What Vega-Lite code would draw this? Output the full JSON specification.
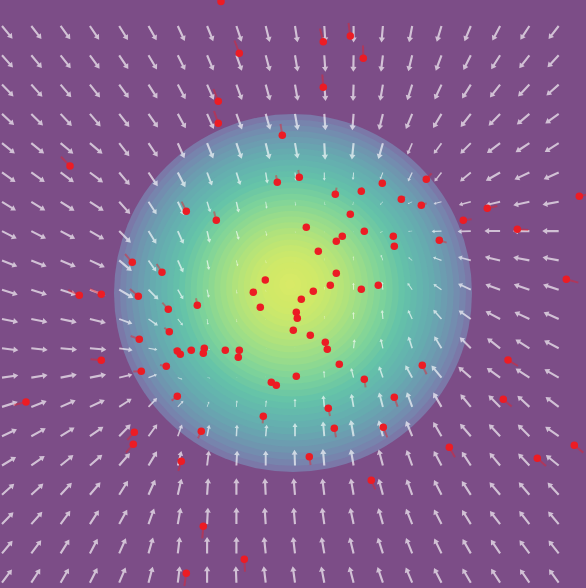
{
"$schema": "https://vega.github.io/schema/vega-lite/v6.json",
"width": 586, "height": 588, "padding": 0, "autosize": {"type": "none"},
"background": "#7c4d87",
"config": {"view": {"stroke": null, "fill": "#7c4d87"}},
"datasets": {
"heat": [
{"cx":29.3,"cy":29.5,"r":17.9,"v":0.18},{"cx":29.3,"cy":29.53,"r":17.3,"v":0.24},{"cx":29.28,"cy":29.56,"r":16.7,"v":0.29},{"cx":29.27,"cy":29.59,"r":16.1,"v":0.34},{"cx":29.26,"cy":29.62,"r":15.5,"v":0.38},{"cx":29.25,"cy":29.65,"r":14.9,"v":0.42},{"cx":29.24,"cy":29.68,"r":14.3,"v":0.46},{"cx":29.23,"cy":29.71,"r":13.7,"v":0.49},{"cx":29.22,"cy":29.74,"r":13.1,"v":0.52},{"cx":29.21,"cy":29.77,"r":12.5,"v":0.55},{"cx":29.2,"cy":29.8,"r":11.9,"v":0.58},{"cx":29.19,"cy":29.83,"r":11.3,"v":0.61},{"cx":29.18,"cy":29.86,"r":10.7,"v":0.64},{"cx":29.17,"cy":29.89,"r":10.1,"v":0.67},{"cx":29.16,"cy":29.92,"r":9.5,"v":0.70},{"cx":29.15,"cy":29.95,"r":8.9,"v":0.72},{"cx":29.14,"cy":29.98,"r":8.3,"v":0.745},{"cx":29.13,"cy":30.01,"r":7.7,"v":0.77},{"cx":29.12,"cy":30.04,"r":7.1,"v":0.79},{"cx":29.11,"cy":30.07,"r":6.5,"v":0.81},{"cx":29.1,"cy":30.1,"r":5.9,"v":0.83},{"cx":29.09,"cy":30.13,"r":5.3,"v":0.845},{"cx":29.08,"cy":30.16,"r":4.7,"v":0.86},{"cx":29.07,"cy":30.19,"r":4.1,"v":0.875},{"cx":29.06,"cy":30.22,"r":3.5,"v":0.885},{"cx":29.05,"cy":30.25,"r":2.9,"v":0.895},{"cx":29.04,"cy":30.28,"r":2.3,"v":0.9},{"cx":29.03,"cy":30.31,"r":1.7,"v":0.905},{"cx":29.02,"cy":30.34,"r":1.1,"v":0.91},{"cx":29.01,"cy":30.37,"r":0.5,"v":0.915}
],
"field": [
{"k":0,"j":0,"a":140.2,"m":1},{"k":1,"j":0,"a":142,"m":1},{"k":2,"j":0,"a":143.9,"m":1},{"k":3,"j":0,"a":145.9,"m":1},{"k":4,"j":0,"a":148.1,"m":1},{"k":5,"j":0,"a":150.5,"m":1},{"k":6,"j":0,"a":155,"m":1},{"k":7,"j":0,"a":158,"m":1},{"k":8,"j":0,"a":161.5,"m":1},{"k":9,"j":0,"a":166,"m":1},{"k":10,"j":0,"a":171,"m":1},{"k":11,"j":0,"a":176,"m":1},{"k":12,"j":0,"a":180,"m":1},{"k":13,"j":0,"a":185,"m":1},{"k":14,"j":0,"a":191,"m":1},{"k":15,"j":0,"a":196.8,"m":1},{"k":16,"j":0,"a":202.6,"m":1},{"k":17,"j":0,"a":208.1,"m":1},{"k":18,"j":0,"a":213.2,"m":1},{"k":19,"j":0,"a":218,"m":1},
{"k":0,"j":1,"a":138.2,"m":1},{"k":1,"j":1,"a":140,"m":1},{"k":2,"j":1,"a":142,"m":1},{"k":3,"j":1,"a":144.1,"m":1},{"k":4,"j":1,"a":146.4,"m":1},{"k":5,"j":1,"a":149,"m":1},{"k":6,"j":1,"a":153.5,"m":1},{"k":7,"j":1,"a":157,"m":1},{"k":8,"j":1,"a":160.5,"m":1},{"k":9,"j":1,"a":165,"m":1},{"k":10,"j":1,"a":170.5,"m":1},{"k":11,"j":1,"a":176,"m":1},{"k":12,"j":1,"a":181,"m":1},{"k":13,"j":1,"a":186.9,"m":1},{"k":14,"j":1,"a":193.7,"m":1},{"k":15,"j":1,"a":200.4,"m":1},{"k":16,"j":1,"a":206.7,"m":1},{"k":17,"j":1,"a":212.7,"m":1},{"k":18,"j":1,"a":218,"m":1},{"k":19,"j":1,"a":222.9,"m":1},
{"k":0,"j":2,"a":135.7,"m":1},{"k":1,"j":2,"a":137.6,"m":1},{"k":2,"j":2,"a":139.7,"m":1},{"k":3,"j":2,"a":142,"m":1},{"k":4,"j":2,"a":144.5,"m":1},{"k":5,"j":2,"a":147.2,"m":1},{"k":6,"j":2,"a":152,"m":1},{"k":7,"j":2,"a":156,"m":1},{"k":8,"j":2,"a":160,"m":1},{"k":9,"j":2,"a":164.5,"m":1},{"k":10,"j":2,"a":170,"m":1},{"k":11,"j":2,"a":175.5,"m":1},{"k":12,"j":2,"a":182,"m":1},{"k":13,"j":2,"a":189.8,"m":1},{"k":14,"j":2,"a":197.5,"m":1},{"k":15,"j":2,"a":204.9,"m":1},{"k":16,"j":2,"a":211.8,"m":1},{"k":17,"j":2,"a":218,"m":1},{"k":18,"j":2,"a":223.5,"m":1},{"k":19,"j":2,"a":228.3,"m":1},
{"k":0,"j":3,"a":132.9,"m":1},{"k":1,"j":3,"a":134.8,"m":1},{"k":2,"j":3,"a":137,"m":1},{"k":3,"j":3,"a":139.4,"m":1},{"k":4,"j":3,"a":142,"m":1},{"k":5,"j":3,"a":145,"m":1},{"k":6,"j":3,"a":151,"m":1},{"k":7,"j":3,"a":156,"m":1},{"k":8,"j":3,"a":160,"m":1},{"k":9,"j":3,"a":164,"m":1},{"k":10,"j":3,"a":170,"m":1},{"k":11,"j":3,"a":176,"m":1},{"k":12,"j":3,"a":184.5,"m":1},{"k":13,"j":3,"a":193.7,"m":1},{"k":14,"j":3,"a":202.6,"m":1},{"k":15,"j":3,"a":210.7,"m":1},{"k":16,"j":3,"a":218,"m":1},{"k":17,"j":3,"a":224.3,"m":1},{"k":18,"j":3,"a":229.7,"m":1},{"k":19,"j":3,"a":234.5,"m":1},
{"k":0,"j":4,"a":128.8,"m":1},{"k":1,"j":4,"a":129,"m":1},{"k":2,"j":4,"a":129.5,"m":1},{"k":3,"j":4,"a":130,"m":1},{"k":4,"j":4,"a":142,"m":1},{"k":5,"j":4,"a":146,"m":1},{"k":6,"j":4,"a":156,"m":1},{"k":7,"j":4,"a":158,"m":1},{"k":8,"j":4,"a":161,"m":1},{"k":9,"j":4,"a":166,"m":1},{"k":10,"j":4,"a":170,"m":0.95},{"k":11,"j":4,"a":177,"m":1},{"k":12,"j":4,"a":186,"m":1},{"k":13,"j":4,"a":196,"m":1},{"k":14,"j":4,"a":203,"m":0.75},{"k":15,"j":4,"a":216,"m":0.8},{"k":16,"j":4,"a":225,"m":0.9},{"k":17,"j":4,"a":233,"m":1},{"k":18,"j":4,"a":237,"m":1},{"k":19,"j":4,"a":238,"m":1},
{"k":0,"j":5,"a":125,"m":1},{"k":1,"j":5,"a":125,"m":1},{"k":2,"j":5,"a":126,"m":1},{"k":3,"j":5,"a":127,"m":1},{"k":4,"j":5,"a":140,"m":1},{"k":5,"j":5,"a":146,"m":1},{"k":6,"j":5,"a":152.8,"m":1},{"k":7,"j":5,"a":159.4,"m":0.85},{"k":8,"j":5,"a":162.5,"m":0.8},{"k":9,"j":5,"a":171,"m":0.67},{"k":10,"j":5,"a":173,"m":0.5},{"k":11,"j":5,"a":180,"m":0.5},{"k":12,"j":5,"a":185,"m":0.45},{"k":13,"j":5,"a":202,"m":0.45},{"k":14,"j":5,"a":205,"m":0.6},{"k":15,"j":5,"a":218,"m":0.7},{"k":16,"j":5,"a":230,"m":0.85},{"k":17,"j":5,"a":240,"m":1},{"k":18,"j":5,"a":245,"m":1},{"k":19,"j":5,"a":246,"m":1},
{"k":0,"j":6,"a":122,"m":1},{"k":1,"j":6,"a":122,"m":1},{"k":2,"j":6,"a":122.5,"m":1},{"k":3,"j":6,"a":123,"m":1},{"k":4,"j":6,"a":138,"m":1},{"k":5,"j":6,"a":147,"m":0.9},{"k":6,"j":6,"a":154.4,"m":0.9},{"k":7,"j":6,"a":162.8,"m":0.67},{"k":8,"j":6,"a":167.7,"m":0.67},{"k":9,"j":6,"a":171.5,"m":0.42},{"k":10,"j":6,"a":170,"m":0.25},{"k":11,"j":6,"a":166,"m":0.2},{"k":12,"j":6,"a":196,"m":0.2},{"k":13,"j":6,"a":225,"m":0.25},{"k":14,"j":6,"a":245,"m":0.3},{"k":15,"j":6,"a":255,"m":0.5},{"k":16,"j":6,"a":255,"m":0.75},{"k":17,"j":6,"a":257,"m":0.9},{"k":18,"j":6,"a":258,"m":1},{"k":19,"j":6,"a":259.4,"m":1},
{"k":0,"j":7,"a":117,"m":1},{"k":1,"j":7,"a":117,"m":1},{"k":2,"j":7,"a":118,"m":1},{"k":3,"j":7,"a":120,"m":1},{"k":4,"j":7,"a":135,"m":1},{"k":5,"j":7,"a":148,"m":0.9},{"k":6,"j":7,"a":155.7,"m":0.85},{"k":7,"j":7,"a":167,"m":0.72},{"k":8,"j":7,"a":164.5,"m":0.55},{"k":9,"j":7,"a":167,"m":0.3},{"k":10,"j":7,"a":170,"m":0.12},{"k":11,"j":7,"a":180,"m":0.08},{"k":12,"j":7,"a":200,"m":0.08},{"k":13,"j":7,"a":240,"m":0.2},{"k":14,"j":7,"a":265,"m":0.25},{"k":15,"j":7,"a":268,"m":0.6},{"k":16,"j":7,"a":268,"m":0.8},{"k":17,"j":7,"a":270,"m":0.95},{"k":18,"j":7,"a":270,"m":1},{"k":19,"j":7,"a":270,"m":1},
{"k":0,"j":8,"a":112,"m":1},{"k":1,"j":8,"a":112,"m":1},{"k":2,"j":8,"a":113,"m":1},{"k":3,"j":8,"a":115,"m":1},{"k":4,"j":8,"a":130,"m":1},{"k":5,"j":8,"a":145,"m":0.82},{"k":6,"j":8,"a":155.6,"m":0.8},{"k":7,"j":8,"a":168.7,"m":0.6},{"k":8,"j":8,"a":167,"m":0.36},{"k":9,"j":8,"a":170,"m":0.18},{"k":10,"j":8,"a":180,"m":0.06},{"k":11,"j":8,"a":0,"m":0.12},{"k":12,"j":8,"a":355,"m":0.25},{"k":13,"j":8,"a":340,"m":0.36},{"k":14,"j":8,"a":310,"m":0.3},{"k":15,"j":8,"a":290,"m":0.55},{"k":16,"j":8,"a":285,"m":0.8},{"k":17,"j":8,"a":283,"m":0.95},{"k":18,"j":8,"a":281,"m":1},{"k":19,"j":8,"a":281,"m":1},
{"k":0,"j":9,"a":107.7,"m":1},{"k":1,"j":9,"a":108,"m":1},{"k":2,"j":9,"a":108,"m":1},{"k":3,"j":9,"a":110,"m":1},{"k":4,"j":9,"a":120,"m":1},{"k":5,"j":9,"a":135,"m":0.85},{"k":6,"j":9,"a":150.3,"m":0.67},{"k":7,"j":9,"a":167.6,"m":0.5},{"k":8,"j":9,"a":171,"m":0.25},{"k":9,"j":9,"a":170,"m":0.12},{"k":10,"j":9,"a":180,"m":0.06},{"k":11,"j":9,"a":0,"m":0.18},{"k":12,"j":9,"a":358,"m":0.42},{"k":13,"j":9,"a":352,"m":0.5},{"k":14,"j":9,"a":325,"m":0.5},{"k":15,"j":9,"a":305,"m":0.6},{"k":16,"j":9,"a":295,"m":0.85},{"k":17,"j":9,"a":290,"m":0.95},{"k":18,"j":9,"a":289,"m":1},{"k":19,"j":9,"a":288,"m":1},
{"k":0,"j":10,"a":101,"m":1},{"k":1,"j":10,"a":101,"m":1},{"k":2,"j":10,"a":102,"m":1},{"k":3,"j":10,"a":104,"m":1},{"k":4,"j":10,"a":110,"m":0.85},{"k":5,"j":10,"a":125,"m":0.7},{"k":6,"j":10,"a":141.7,"m":0.5},{"k":7,"j":10,"a":171.5,"m":0.36},{"k":8,"j":10,"a":170,"m":0.18},{"k":9,"j":10,"a":170,"m":0.06},{"k":10,"j":10,"a":0,"m":0.05},{"k":11,"j":10,"a":0,"m":0.18},{"k":12,"j":10,"a":358,"m":0.42},{"k":13,"j":10,"a":355,"m":0.55},{"k":14,"j":10,"a":335,"m":0.6},{"k":15,"j":10,"a":318,"m":0.75},{"k":16,"j":10,"a":305,"m":0.9},{"k":17,"j":10,"a":298,"m":1},{"k":18,"j":10,"a":295,"m":1},{"k":19,"j":10,"a":294,"m":1},
{"k":0,"j":11,"a":97,"m":1},{"k":1,"j":11,"a":96,"m":1},{"k":2,"j":11,"a":95,"m":1},{"k":3,"j":11,"a":95,"m":1},{"k":4,"j":11,"a":98,"m":0.82},{"k":5,"j":11,"a":100,"m":0.55},{"k":6,"j":11,"a":141,"m":0.3},{"k":7,"j":11,"a":120,"m":0.2},{"k":8,"j":11,"a":110,"m":0.12},{"k":9,"j":11,"a":100,"m":0.06},{"k":10,"j":11,"a":0,"m":0.06},{"k":11,"j":11,"a":0,"m":0.18},{"k":12,"j":11,"a":6,"m":0.55},{"k":13,"j":11,"a":347,"m":0.6},{"k":14,"j":11,"a":342,"m":0.75},{"k":15,"j":11,"a":329,"m":0.85},{"k":16,"j":11,"a":315,"m":0.95},{"k":17,"j":11,"a":308,"m":1},{"k":18,"j":11,"a":302,"m":1},{"k":19,"j":11,"a":298,"m":1},
{"k":0,"j":12,"a":82,"m":1},{"k":1,"j":12,"a":81,"m":1},{"k":2,"j":12,"a":79,"m":1},{"k":3,"j":12,"a":79,"m":1},{"k":4,"j":12,"a":77,"m":0.82},{"k":5,"j":12,"a":70,"m":0.55},{"k":6,"j":12,"a":111,"m":0.3},{"k":7,"j":12,"a":100,"m":0.2},{"k":8,"j":12,"a":90,"m":0.06},{"k":9,"j":12,"a":0,"m":0.06},{"k":10,"j":12,"a":0,"m":0.06},{"k":11,"j":12,"a":357,"m":0.42},{"k":12,"j":12,"a":345,"m":0.6},{"k":13,"j":12,"a":341,"m":0.72},{"k":14,"j":12,"a":331,"m":0.85},{"k":15,"j":12,"a":320,"m":0.95},{"k":16,"j":12,"a":311,"m":1},{"k":17,"j":12,"a":306,"m":1},{"k":18,"j":12,"a":303,"m":1},{"k":19,"j":12,"a":300,"m":1},
{"k":0,"j":13,"a":72.2,"m":1},{"k":1,"j":13,"a":68.9,"m":1},{"k":2,"j":13,"a":66,"m":1},{"k":3,"j":13,"a":65,"m":1},{"k":4,"j":13,"a":57,"m":0.9},{"k":5,"j":13,"a":44,"m":0.75},{"k":6,"j":13,"a":43,"m":0.5},{"k":7,"j":13,"a":20,"m":0.35},{"k":8,"j":13,"a":5,"m":0.4},{"k":9,"j":13,"a":5,"m":0.4},{"k":10,"j":13,"a":0,"m":0.5},{"k":11,"j":13,"a":355,"m":0.7},{"k":12,"j":13,"a":350,"m":0.8},{"k":13,"j":13,"a":345,"m":0.9},{"k":14,"j":13,"a":340,"m":0.95},{"k":15,"j":13,"a":330,"m":1},{"k":16,"j":13,"a":320.7,"m":1},{"k":17,"j":13,"a":315,"m":1},{"k":18,"j":13,"a":313,"m":1},{"k":19,"j":13,"a":307,"m":1},
{"k":0,"j":14,"a":65.1,"m":1},{"k":1,"j":14,"a":61.3,"m":1},{"k":2,"j":14,"a":58,"m":1},{"k":3,"j":14,"a":55,"m":1},{"k":4,"j":14,"a":44,"m":1},{"k":5,"j":14,"a":36,"m":0.9},{"k":6,"j":14,"a":20,"m":0.75},{"k":7,"j":14,"a":11,"m":0.7},{"k":8,"j":14,"a":3,"m":0.7},{"k":9,"j":14,"a":5,"m":0.7},{"k":10,"j":14,"a":0,"m":0.8},{"k":11,"j":14,"a":355,"m":0.9},{"k":12,"j":14,"a":350,"m":1},{"k":13,"j":14,"a":345,"m":1},{"k":14,"j":14,"a":338,"m":1},{"k":15,"j":14,"a":330,"m":1},{"k":16,"j":14,"a":319,"m":1},{"k":17,"j":14,"a":317,"m":1},{"k":18,"j":14,"a":315,"m":1},{"k":19,"j":14,"a":305,"m":1},
{"k":0,"j":15,"a":58.5,"m":1},{"k":1,"j":15,"a":54.5,"m":1},{"k":2,"j":15,"a":51,"m":1},{"k":3,"j":15,"a":49,"m":1},{"k":4,"j":15,"a":41,"m":1},{"k":5,"j":15,"a":31,"m":1},{"k":6,"j":15,"a":14,"m":0.9},{"k":7,"j":15,"a":7,"m":0.9},{"k":8,"j":15,"a":3,"m":0.9},{"k":9,"j":15,"a":0,"m":0.9},{"k":10,"j":15,"a":358,"m":0.95},{"k":11,"j":15,"a":355,"m":1},{"k":12,"j":15,"a":350,"m":1},{"k":13,"j":15,"a":345,"m":1},{"k":14,"j":15,"a":340,"m":1},{"k":15,"j":15,"a":332,"m":1},{"k":16,"j":15,"a":327,"m":1},{"k":17,"j":15,"a":320,"m":1},{"k":18,"j":15,"a":317,"m":1},{"k":19,"j":15,"a":309,"m":1},
{"k":0,"j":16,"a":48,"m":1},{"k":1,"j":16,"a":47,"m":1},{"k":2,"j":16,"a":43,"m":1},{"k":3,"j":16,"a":40,"m":1},{"k":4,"j":16,"a":32,"m":1},{"k":5,"j":16,"a":24,"m":1},{"k":6,"j":16,"a":13,"m":1},{"k":7,"j":16,"a":4,"m":1},{"k":8,"j":16,"a":0,"m":1},{"k":9,"j":16,"a":357,"m":1},{"k":10,"j":16,"a":355,"m":1},{"k":11,"j":16,"a":353,"m":1},{"k":12,"j":16,"a":350,"m":1},{"k":13,"j":16,"a":345,"m":1},{"k":14,"j":16,"a":340,"m":1},{"k":15,"j":16,"a":333,"m":1},{"k":16,"j":16,"a":327,"m":1},{"k":17,"j":16,"a":320,"m":1},{"k":18,"j":16,"a":319.7,"m":1},{"k":19,"j":16,"a":317.6,"m":1},
{"k":0,"j":17,"a":44,"m":1},{"k":1,"j":17,"a":42,"m":1},{"k":2,"j":17,"a":36,"m":1},{"k":3,"j":17,"a":33,"m":1},{"k":4,"j":17,"a":29,"m":1},{"k":5,"j":17,"a":20,"m":1},{"k":6,"j":17,"a":10,"m":1},{"k":7,"j":17,"a":3,"m":1},{"k":8,"j":17,"a":0,"m":1},{"k":9,"j":17,"a":356,"m":1},{"k":10,"j":17,"a":355,"m":1},{"k":11,"j":17,"a":352,"m":1},{"k":12,"j":17,"a":348,"m":1},{"k":13,"j":17,"a":344,"m":1},{"k":14,"j":17,"a":338,"m":1},{"k":15,"j":17,"a":333,"m":1},{"k":16,"j":17,"a":328,"m":1},{"k":17,"j":17,"a":322,"m":1},{"k":18,"j":17,"a":322,"m":1},{"k":19,"j":17,"a":320,"m":1},
{"k":0,"j":18,"a":40,"m":1},{"k":1,"j":18,"a":37,"m":1},{"k":2,"j":18,"a":32,"m":1},{"k":3,"j":18,"a":28,"m":1},{"k":4,"j":18,"a":24,"m":1},{"k":5,"j":18,"a":16,"m":1},{"k":6,"j":18,"a":7,"m":1},{"k":7,"j":18,"a":0,"m":1},{"k":8,"j":18,"a":0,"m":1},{"k":9,"j":18,"a":354,"m":1},{"k":10,"j":18,"a":353,"m":1},{"k":11,"j":18,"a":350,"m":1},{"k":12,"j":18,"a":346,"m":1},{"k":13,"j":18,"a":342,"m":1},{"k":14,"j":18,"a":338,"m":1},{"k":15,"j":18,"a":334,"m":1},{"k":16,"j":18,"a":330,"m":1},{"k":17,"j":18,"a":326,"m":1},{"k":18,"j":18,"a":323,"m":1},{"k":19,"j":18,"a":322,"m":1},
{"k":0,"j":19,"a":37,"m":1},{"k":1,"j":19,"a":33,"m":1},{"k":2,"j":19,"a":30,"m":1},{"k":3,"j":19,"a":27,"m":1},{"k":4,"j":19,"a":23,"m":1},{"k":5,"j":19,"a":15,"m":1},{"k":6,"j":19,"a":7,"m":1},{"k":7,"j":19,"a":0,"m":1},{"k":8,"j":19,"a":358,"m":1},{"k":9,"j":19,"a":353,"m":1},{"k":10,"j":19,"a":352,"m":1},{"k":11,"j":19,"a":349,"m":1},{"k":12,"j":19,"a":345,"m":1},{"k":13,"j":19,"a":341,"m":1},{"k":14,"j":19,"a":337,"m":1},{"k":15,"j":19,"a":333,"m":1},{"k":16,"j":19,"a":329.5,"m":1},{"k":17,"j":19,"a":327,"m":1},{"k":18,"j":19,"a":325,"m":1},{"k":19,"j":19,"a":324,"m":1}
],
"particles": [
{"x":22.1,"y":58.65,"tx":21.7,"ty":59.8},{"x":23.93,"y":53.47,"tx":23.45,"ty":54.75},{"x":32.33,"y":54.63,"tx":32.0,"ty":55.95},{"x":35.03,"y":55.2,"tx":34.85,"ty":56.5},{"x":36.33,"y":52.97,"tx":36.3,"ty":54.25},{"x":32.33,"y":50.07,"tx":32.23,"ty":51.35},{"x":21.83,"y":48.67,"tx":21.35,"ty":49.9},{"x":21.83,"y":46.47,"tx":21.4,"ty":47.7},{"x":28.23,"y":45.27,"tx":28.05,"ty":46.4},{"x":7.0,"y":42.2,"tx":6.1,"ty":43.13},{"x":18.63,"y":37.67,"tx":18.16,"ty":38.64},{"x":27.73,"y":40.57,"tx":27.6,"ty":41.27},{"x":29.93,"y":41.07,"tx":29.83,"ty":41.8},{"x":21.63,"y":36.77,"tx":21.4,"ty":37.64},{"x":33.53,"y":39.37,"tx":33.66,"ty":40.04},{"x":36.13,"y":39.67,"tx":36.23,"ty":40.07},{"x":38.23,"y":40.47,"tx":38.4,"ty":40.8},{"x":40.13,"y":38.87,"tx":40.5,"ty":39.14},{"x":35.03,"y":37.37,"tx":35.1,"ty":37.7},{"x":30.63,"y":36.07,"tx":30.65,"ty":36.3},{"x":34.23,"y":35.17,"tx":34.3,"ty":35.4},{"x":33.63,"y":34.67,"tx":33.7,"ty":34.9},{"x":36.43,"y":35.67,"tx":36.6,"ty":35.9},{"x":39.33,"y":35.17,"tx":39.6,"ty":35.35},{"x":39.43,"y":34.17,"tx":39.7,"ty":34.3},{"x":31.83,"y":33.67,"tx":31.9,"ty":33.8},{"x":33.63,"y":31.47,"tx":33.75,"ty":31.65},{"x":26.53,"y":30.8,"tx":26.4,"ty":31.0},{"x":33.03,"y":30.27,"tx":33.1,"ty":30.35},{"x":31.33,"y":29.67,"tx":31.4,"ty":29.7},{"x":36.13,"y":29.87,"tx":36.3,"ty":29.9},{"x":37.83,"y":30.27,"tx":38.1,"ty":30.3},{"x":25.33,"y":29.57,"tx":25.25,"ty":29.9},{"x":30.13,"y":28.87,"tx":30.1,"ty":28.9},{"x":26.03,"y":28.07,"tx":25.9,"ty":28.3},{"x":19.73,"y":28.27,"tx":19.6,"ty":28.97},{"x":29.63,"y":27.57,"tx":29.6,"ty":27.6},{"x":29.73,"y":26.97,"tx":29.7,"ty":27.0},{"x":29.33,"y":25.77,"tx":29.3,"ty":25.7},{"x":31.03,"y":25.27,"tx":31.1,"ty":25.2},{"x":32.53,"y":24.57,"tx":32.6,"ty":24.4},{"x":32.73,"y":23.87,"tx":32.8,"ty":23.7},{"x":33.93,"y":22.37,"tx":34.0,"ty":22.1},{"x":36.43,"y":20.87,"tx":36.56,"ty":20.07},{"x":29.63,"y":21.17,"tx":29.65,"ty":20.9},{"x":27.13,"y":20.57,"tx":27.1,"ty":20.3},{"x":27.63,"y":20.27,"tx":27.6,"ty":20.0},{"x":39.43,"y":19.07,"tx":39.76,"ty":18.14},{"x":17.73,"y":19.17,"tx":17.16,"ty":18.74},{"x":23.93,"y":23.77,"tx":23.8,"ty":23.8},{"x":23.83,"y":23.07,"tx":23.7,"ty":23.0},{"x":22.53,"y":23.77,"tx":22.4,"ty":23.8},{"x":20.43,"y":23.97,"tx":20.16,"ty":24.2},{"x":20.33,"y":23.47,"tx":20.1,"ty":23.5},{"x":19.13,"y":23.77,"tx":18.7,"ty":23.85},{"x":18.03,"y":23.37,"tx":17.63,"ty":23.54},{"x":17.73,"y":23.7,"tx":17.33,"ty":23.87},{"x":16.93,"y":25.63,"tx":16.43,"ty":26.03},{"x":16.83,"y":27.87,"tx":16.23,"ty":28.54},{"x":13.93,"y":24.87,"tx":13.06,"ty":25.2},{"x":10.13,"y":22.77,"tx":9.06,"ty":22.87},{"x":14.13,"y":21.67,"tx":13.33,"ty":21.64},{"x":16.63,"y":22.17,"tx":16.0,"ty":22.3},{"x":20.13,"y":15.67,"tx":19.8,"ty":14.97},{"x":13.43,"y":15.57,"tx":12.73,"ty":14.8},{"x":13.33,"y":14.37,"tx":12.6,"ty":13.54},{"x":18.13,"y":12.67,"tx":17.83,"ty":11.7},{"x":20.33,"y":6.17,"tx":20.23,"ty":4.97},{"x":24.43,"y":2.87,"tx":24.5,"ty":1.64},{"x":18.63,"y":1.47,"tx":18.43,"ty":0.2},{"x":26.33,"y":17.17,"tx":26.26,"ty":16.47},{"x":13.23,"y":32.57,"tx":12.5,"ty":33.4},{"x":16.2,"y":31.57,"tx":15.67,"ty":32.4},{"x":7.93,"y":29.27,"tx":6.83,"ty":29.8},{"x":10.13,"y":29.37,"tx":9.0,"ty":29.9},{"x":13.83,"y":29.17,"tx":13.0,"ty":29.9},{"x":42.63,"y":40.87,"tx":43.16,"ty":41.47},{"x":42.13,"y":38.27,"tx":42.66,"ty":38.47},{"x":48.73,"y":37.97,"tx":49.73,"ty":38.2},{"x":57.93,"y":39.17,"tx":59.0,"ty":39.4},{"x":46.33,"y":36.77,"tx":47.16,"ty":36.87},{"x":43.93,"y":34.77,"tx":44.66,"ty":34.54},{"x":51.73,"y":35.87,"tx":52.83,"ty":35.8},{"x":56.63,"y":30.87,"tx":57.83,"ty":30.54},{"x":42.23,"y":22.27,"tx":42.66,"ty":21.37},{"x":32.83,"y":17.97,"tx":33.0,"ty":17.2},{"x":33.43,"y":15.97,"tx":33.6,"ty":15.07},{"x":38.33,"y":16.07,"tx":38.73,"ty":15.07},{"x":44.93,"y":14.07,"tx":45.5,"ty":13.07},{"x":30.93,"y":13.13,"tx":31.06,"ty":12.3},{"x":37.13,"y":10.77,"tx":37.53,"ty":9.87},{"x":50.33,"y":18.87,"tx":51.16,"ty":18.14},{"x":53.73,"y":12.97,"tx":54.6,"ty":12.2},{"x":57.43,"y":14.27,"tx":58.33,"ty":13.54},{"x":50.8,"y":22.8,"tx":51.8,"ty":22.2},{"x":2.6,"y":18.6,"tx":1.4,"ty":18.3}
]
},
"layer": [
{"data": {"name": "heat"},
 "mark": {"type": "point", "shape": "circle", "filled": true, "opacity": 1, "strokeWidth": 0},
 "encoding": {
  "x": {"field": "cx", "type": "quantitative", "scale": {"domain": [0, 58.6], "nice": false, "zero": false}, "axis": null},
  "y": {"field": "cy", "type": "quantitative", "scale": {"domain": [0, 58.8], "nice": false, "zero": false}, "axis": null},
  "size": {"field": "r", "type": "quantitative", "scale": {"type": "pow", "exponent": 2, "domain": [0, 20], "range": [0, 160000]}, "legend": null},
  "color": {"field": "v", "type": "quantitative", "scale": {"domain": [0,0.1,0.2,0.3,0.4,0.5,0.6,0.7,0.8,0.9,1], "range": ["#7c4d87","#7f669e","#7a7cab","#728faf","#6aa1b0","#64b2af","#64c2a9","#7cd29b","#a2df85","#d1e967","#feee66"], "interpolate": "rgb"}, "legend": null},
  "order": {"field": "r", "sort": "descending"}
 }},
{"data": {"name": "field"},
 "mark": {"type": "point", "shape": "M-0.13,0L-0.13,-1.4L-0.38,-1.4L0,-2L0.38,-1.4L0.13,-1.4L0.13,0Z", "filled": true, "color": "white", "opacity": 0.65, "strokeWidth": 0},
 "encoding": {
  "x": {"field": "k", "type": "quantitative", "scale": {"domain": [-0.0683, 19.932], "nice": false, "zero": false}, "axis": null},
  "y": {"field": "j", "type": "quantitative", "scale": {"domain": [-0.887, 19.181], "nice": false, "zero": false, "reverse": true}, "axis": null},
  "angle": {"field": "a", "type": "quantitative", "scale": null},
  "size": {"field": "m", "type": "quantitative", "scale": {"type": "pow", "exponent": 2, "domain": [0, 1], "range": [0, 272]}, "legend": null}
 }},
{"data": {"name": "particles"},
 "mark": {"type": "rule", "color": "#e8202a", "opacity": 0.45, "strokeWidth": 2},
 "encoding": {
  "x": {"field": "x", "type": "quantitative", "scale": {"domain": [0, 58.6], "nice": false, "zero": false}, "axis": null},
  "y": {"field": "y", "type": "quantitative", "scale": {"domain": [0, 58.8], "nice": false, "zero": false}, "axis": null},
  "x2": {"field": "tx"},
  "y2": {"field": "ty"}
 }},
{"data": {"name": "particles"},
 "mark": {"type": "point", "shape": "circle", "filled": true, "color": "#ec1c24", "opacity": 1, "size": 56, "strokeWidth": 0},
 "encoding": {
  "x": {"field": "x", "type": "quantitative", "scale": {"domain": [0, 58.6], "nice": false, "zero": false}, "axis": null},
  "y": {"field": "y", "type": "quantitative", "scale": {"domain": [0, 58.8], "nice": false, "zero": false}, "axis": null}
 }}
],
"resolve": {"scale": {"size": "independent", "color": "independent", "x": "independent", "y": "independent"}}
}
